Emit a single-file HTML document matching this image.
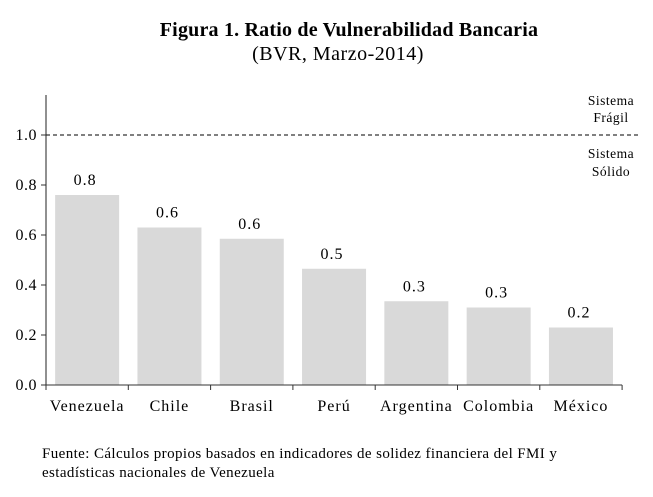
<!DOCTYPE html>
<html><head><meta charset="utf-8"><style>
body{margin:0;background:#fff;width:653px;height:492px;overflow:hidden;font-family:"Liberation Serif",serif;}
</style></head><body>
<svg width="653" height="492" font-family="Liberation Serif, serif">
<text x="349" y="36" text-anchor="middle" font-size="20" font-weight="bold" letter-spacing="0.2">Figura 1. Ratio de Vulnerabilidad Bancaria</text>
<text x="338" y="60" text-anchor="middle" font-size="20" letter-spacing="0.5">(BVR, Marzo-2014)</text>
<g id="plot"></g>
<text x="611" y="105" text-anchor="middle" font-size="13.5" letter-spacing="0.5">Sistema</text>
<text x="611" y="122" text-anchor="middle" font-size="13.5" letter-spacing="0.5">Frágil</text>
<text x="611" y="158" text-anchor="middle" font-size="13.5" letter-spacing="0.5">Sistema</text>
<text x="611" y="176" text-anchor="middle" font-size="13.5" letter-spacing="0.5">Sólido</text>
<text x="42" y="458" font-size="15" letter-spacing="0.4">Fuente: Cálculos propios basados en indicadores de solidez financiera del FMI y</text>
<text x="42" y="477" font-size="15" letter-spacing="0.4">estadísticas nacionales de Venezuela</text>
</svg>
<script>
const categories=["Venezuela","Chile","Brasil","Perú","Argentina","Colombia","México"];
const values=[0.76,0.63,0.585,0.465,0.335,0.31,0.23];
const labels=["0.8","0.6","0.6","0.5","0.3","0.3","0.2"];
const yTicks=[0,0.2,0.4,0.6,0.8,1.0];
const threshold=1.0;
const NS="http://www.w3.org/2000/svg";
const g=document.getElementById('plot');
const x0=46,slot=82.3,y0=385,yPer=250;
const y=v=>y0-v*yPer;
function mk(t,a,txt){const e=document.createElementNS(NS,t);for(const k in a)e.setAttribute(k,a[k]);if(txt!==undefined)e.textContent=txt;g.appendChild(e);return e;}
categories.forEach((c,i)=>{
  const cx=x0+slot*(i+0.5);
  const b=mk('rect',{x:cx-32,y:y(values[i]),width:64,height:values[i]*yPer,fill:'#d9d9d9'});
  
  
  const l=mk('text',{x:cx-2,y:y(values[i])-10,'text-anchor':'middle','font-size':16,'letter-spacing':1},labels[i]);
  
  
  const t=mk('text',{x:cx,y:411,'text-anchor':'middle','font-size':16,'letter-spacing':1},c);
  
  
});
for(let i=0;i<=categories.length;i++){
  const tk=mk('line',{x1:x0+slot*i,x2:x0+slot*i,y1:y0,y2:y0+5,stroke:'#333'});
  
  
}
yTicks.forEach(v=>{
  const tk=mk('line',{x1:x0-5,x2:x0,y1:y(v),y2:y(v),stroke:'#333'});
  
  
  const t=mk('text',{x:x0-9,y:y(v)+5,'text-anchor':'end','font-size':16,'letter-spacing':0.5},v.toFixed(1));
  
  
});
const th=mk('line',{x1:x0,x2:640,y1:y(threshold),y2:y(threshold),stroke:'#000','stroke-dasharray':'4,3'});


const ya=mk('line',{x1:x0,x2:x0,y1:95,y2:y0,stroke:'#222'});


const xa=mk('line',{x1:x0,x2:x0+slot*categories.length,y1:y0,y2:y0,stroke:'#333'});


</script>
</body></html>
